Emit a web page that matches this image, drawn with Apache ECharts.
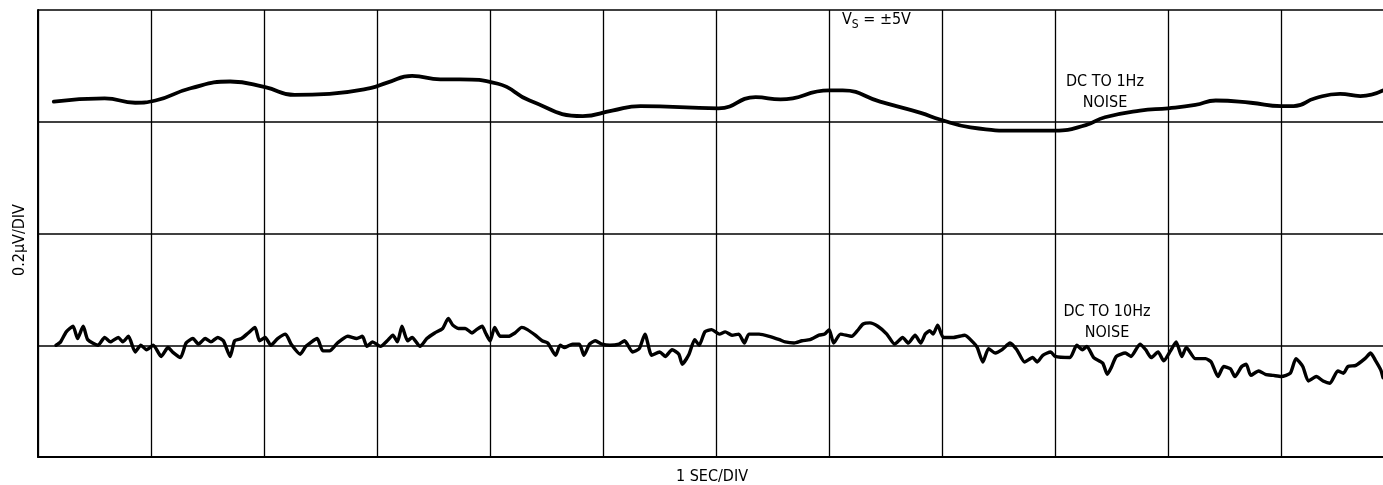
<!DOCTYPE html>
<html>
<head>
<meta charset="utf-8">
<title>DC to 1Hz / DC to 10Hz noise</title>
<script src="https://cdn.jsdelivr.net/npm/echarts@6/dist/echarts.min.js"></script>
<style>
  html, body { margin: 0; padding: 0; background: #fff; }
  #chart { width: 1383px; height: 485px; }
</style>
</head>
<body>
<div id="chart"></div>
<script>
// x in seconds (1 SEC/DIV), y in divisions (0.2uV/DIV), 0 = bottom of screen
const upperTime = [0.14, 0.59, 0.86, 1.04, 1.35, 1.70, 2.01, 2.27, 2.58, 2.94,
  3.09, 3.31, 3.56, 3.73, 4.07, 4.35, 4.82, 5.08, 5.33, 6.02,
  6.35, 6.57, 7.00, 7.12, 7.45, 7.81, 7.98, 8.25, 8.69, 9.00,
  9.27, 9.44, 9.75, 10.00, 10.24, 10.42, 10.73, 11.00, 11.11, 11.30,
  11.52, 11.70, 11.90]
const upperValue = [3.18, 3.21, 3.17, 3.19, 3.30, 3.36, 3.31, 3.24, 3.25, 3.30,
  3.35, 3.41, 3.38, 3.38, 3.34, 3.19, 3.05, 3.10, 3.14, 3.12,
  3.22, 3.20, 3.28, 3.28, 3.18, 3.08, 3.02, 2.95, 2.92, 2.92,
  2.97, 3.04, 3.10, 3.12, 3.15, 3.19, 3.17, 3.14, 3.14, 3.21,
  3.25, 3.23, 3.28]

const lowerTime = [
  0.16, 0.20, 0.25, 0.31, 0.35, 0.40, 0.44, 0.53,
  0.59, 0.64, 0.71, 0.75, 0.80, 0.86, 0.91, 0.96,
  1.02, 1.09, 1.15, 1.19, 1.26, 1.31, 1.37, 1.42,
  1.48, 1.53, 1.59, 1.64, 1.70, 1.74, 1.80, 1.86,
  1.92, 1.96, 2.01, 2.06, 2.12, 2.19, 2.24, 2.32, 2.37,
  2.47, 2.52, 2.58, 2.65, 2.74, 2.82, 2.87, 2.91,
  2.96, 3.03, 3.09, 3.14, 3.18, 3.22, 3.27, 3.31,
  3.38, 3.44, 3.51, 3.58, 3.63, 3.67, 3.72, 3.78,
  3.84, 3.88, 3.93, 3.96, 4.00, 4.04, 4.09, 4.16,
  4.22, 4.28, 4.33, 4.40, 4.46, 4.51, 4.58, 4.62,
  4.66, 4.73, 4.79, 4.83, 4.88, 4.93, 4.99, 5.06,
  5.14, 5.19, 5.26, 5.32, 5.37, 5.43, 5.50, 5.55,
  5.61, 5.67, 5.70, 5.76, 5.81, 5.85, 5.90, 5.96,
  6.03, 6.08, 6.14, 6.20, 6.25, 6.29, 6.38, 6.47,
  6.56, 6.61, 6.69, 6.76, 6.83, 6.91, 6.96, 7.00,
  7.04, 7.10, 7.20, 7.25, 7.30, 7.36, 7.43, 7.51,
  7.58, 7.65, 7.70, 7.76, 7.81, 7.85, 7.89, 7.92,
  7.96, 8.01, 8.10, 8.20, 8.27, 8.31, 8.36, 8.41,
  8.47, 8.53, 8.60, 8.66, 8.73, 8.80, 8.84, 8.89,
  8.96, 9.00, 9.13, 9.19, 9.24, 9.28, 9.34, 9.42,
  9.46, 9.50, 9.54, 9.62, 9.67, 9.75, 9.80, 9.85,
  9.91, 9.96, 10.02, 10.07, 10.12, 10.16, 10.24, 10.33,
  10.38, 10.44, 10.49, 10.55, 10.59, 10.65, 10.69, 10.73,
  10.80, 10.86, 10.93, 11.00, 11.08, 11.13, 11.19, 11.24,
  11.31, 11.37, 11.43, 11.50, 11.55, 11.59, 11.66, 11.74,
  11.79, 11.83, 11.88, 11.90
]
const lowerValue = [
  1.00, 1.03, 1.12, 1.17, 1.06, 1.17, 1.05, 1.00,
  1.07, 1.03, 1.07, 1.03, 1.08, 0.94, 1.00, 0.96,
  1.00, 0.90, 0.98, 0.94, 0.89, 1.02, 1.06, 1.01,
  1.06, 1.03, 1.07, 1.04, 0.90, 1.04, 1.06, 1.11,
  1.16, 1.04, 1.07, 1.00, 1.06, 1.10, 1.01, 0.92, 0.99,
  1.06, 0.95, 0.95, 1.02, 1.08, 1.06, 1.08, 0.99,
  1.03, 0.99, 1.04, 1.09, 1.03, 1.17, 1.04, 1.07,
  0.99, 1.06, 1.11, 1.15, 1.24, 1.18, 1.15, 1.15,
  1.11, 1.14, 1.17, 1.11, 1.04, 1.16, 1.08, 1.08,
  1.11, 1.16, 1.14, 1.09, 1.04, 1.02, 0.91, 1.00,
  0.98, 1.01, 1.01, 0.91, 1.01, 1.04, 1.01, 1.00,
  1.01, 1.04, 0.94, 0.97, 1.10, 0.91, 0.94, 0.90,
  0.96, 0.92, 0.83, 0.92, 1.05, 1.00, 1.12, 1.14,
  1.10, 1.12, 1.09, 1.10, 1.02, 1.10, 1.10, 1.08,
  1.05, 1.03, 1.02, 1.04, 1.05, 1.09, 1.10, 1.14,
  1.02, 1.10, 1.08, 1.13, 1.19, 1.20, 1.17, 1.10,
  1.01, 1.07, 1.02, 1.09, 1.02, 1.10, 1.13, 1.10,
  1.18, 1.07, 1.07, 1.09, 1.03, 0.98, 0.85, 0.97,
  0.93, 0.96, 1.02, 0.96, 0.85, 0.89, 0.85, 0.91,
  0.94, 0.90, 0.89, 1.00, 0.96, 0.99, 0.89, 0.84,
  0.74, 0.81, 0.90, 0.93, 0.90, 1.01, 0.96, 0.89,
  0.94, 0.86, 0.95, 1.03, 0.90, 0.98, 0.88, 0.88,
  0.85, 0.72, 0.81, 0.79, 0.72, 0.81, 0.83, 0.73,
  0.77, 0.74, 0.73, 0.72, 0.75, 0.88, 0.81, 0.68,
  0.72, 0.68, 0.66, 0.77, 0.75, 0.81, 0.82, 0.88,
  0.93, 0.87, 0.78, 0.71
]

const xLabel = '1 SEC/DIV'
const yLabel = '0.2\u00b5V/DIV'

const zip = (xs, ys) => xs.map((x, i) => [x, ys[i]])
const font = '"Liberation Sans Narrow", "DejaVu Sans Condensed", "Liberation Sans", Arial, sans-serif'

const chart = echarts.init(document.getElementById('chart'), null, { renderer: 'canvas' })
chart.setOption({
  animation: false,
  backgroundColor: '#fff',
  grid: { left: 38, right: 0, top: 10, bottom: 28 },
  xAxis: {
    type: 'value',
    min: 0,
    max: 11.9,
    interval: 1,
    axisLine: { show: true, onZero: false, lineStyle: { color: '#000', width: 2 } },
    axisTick: { show: false },
    axisLabel: { show: false },
    splitLine: { show: true, showMaxLine: false, lineStyle: { color: '#000', width: 1.3 } }
  },
  yAxis: {
    type: 'value',
    min: 0,
    max: 4,
    interval: 1,
    axisLine: { show: true, onZero: false, lineStyle: { color: '#000', width: 2 } },
    axisTick: { show: false },
    axisLabel: { show: false },
    splitLine: { show: true, lineStyle: { color: '#000', width: 1.6 } }
  },
  series: [
    {
      name: 'DC TO 1Hz NOISE',
      type: 'line',
      data: zip(upperTime, upperValue),
      smooth: 0.5,
      showSymbol: false,
      lineStyle: { color: '#000', width: 3.8, cap: 'round', join: 'round' }
    },
    {
      name: 'DC TO 10Hz NOISE',
      type: 'line',
      data: zip(lowerTime, lowerValue),
      smooth: 0.2,
      showSymbol: false,
      lineStyle: { color: '#000', width: 3.4, cap: 'round', join: 'round' }
    }
  ],
  graphic: [
    {
      type: 'text',
      x: 20,
      y: 240,
      rotation: Math.PI / 2,
      style: { text: yLabel, fontFamily: font, fontSize: 16, fill: '#000', align: 'center', verticalAlign: 'middle' }
    },
    {
      type: 'text',
      x: 712,
      y: 477,
      style: { text: xLabel, fontFamily: font, fontSize: 16, fill: '#000', align: 'center', verticalAlign: 'middle' }
    },
    {
      type: 'text',
      x: 842,
      y: 12,
      style: {
        text: '{a|V}{b|S}{a| = \u00b15V}',
        fill: '#000',
        rich: {
          a: { fontFamily: font, fontSize: 16, fill: '#000', verticalAlign: 'top', lineHeight: 18 },
          b: { fontFamily: font, fontSize: 12, fill: '#000', padding: [7, 0, 0, 0], lineHeight: 18 }
        }
      }
    },
    {
      type: 'text',
      x: 1105,
      y: 92,
      style: { text: 'DC TO 1Hz\nNOISE', fontFamily: font, fontSize: 16, lineHeight: 21, fill: '#000', align: 'center', verticalAlign: 'middle' }
    },
    {
      type: 'text',
      x: 1107,
      y: 322,
      style: { text: 'DC TO 10Hz\nNOISE', fontFamily: font, fontSize: 16, lineHeight: 21, fill: '#000', align: 'center', verticalAlign: 'middle' }
    }
  ]
})
</script>
</body>
</html>
